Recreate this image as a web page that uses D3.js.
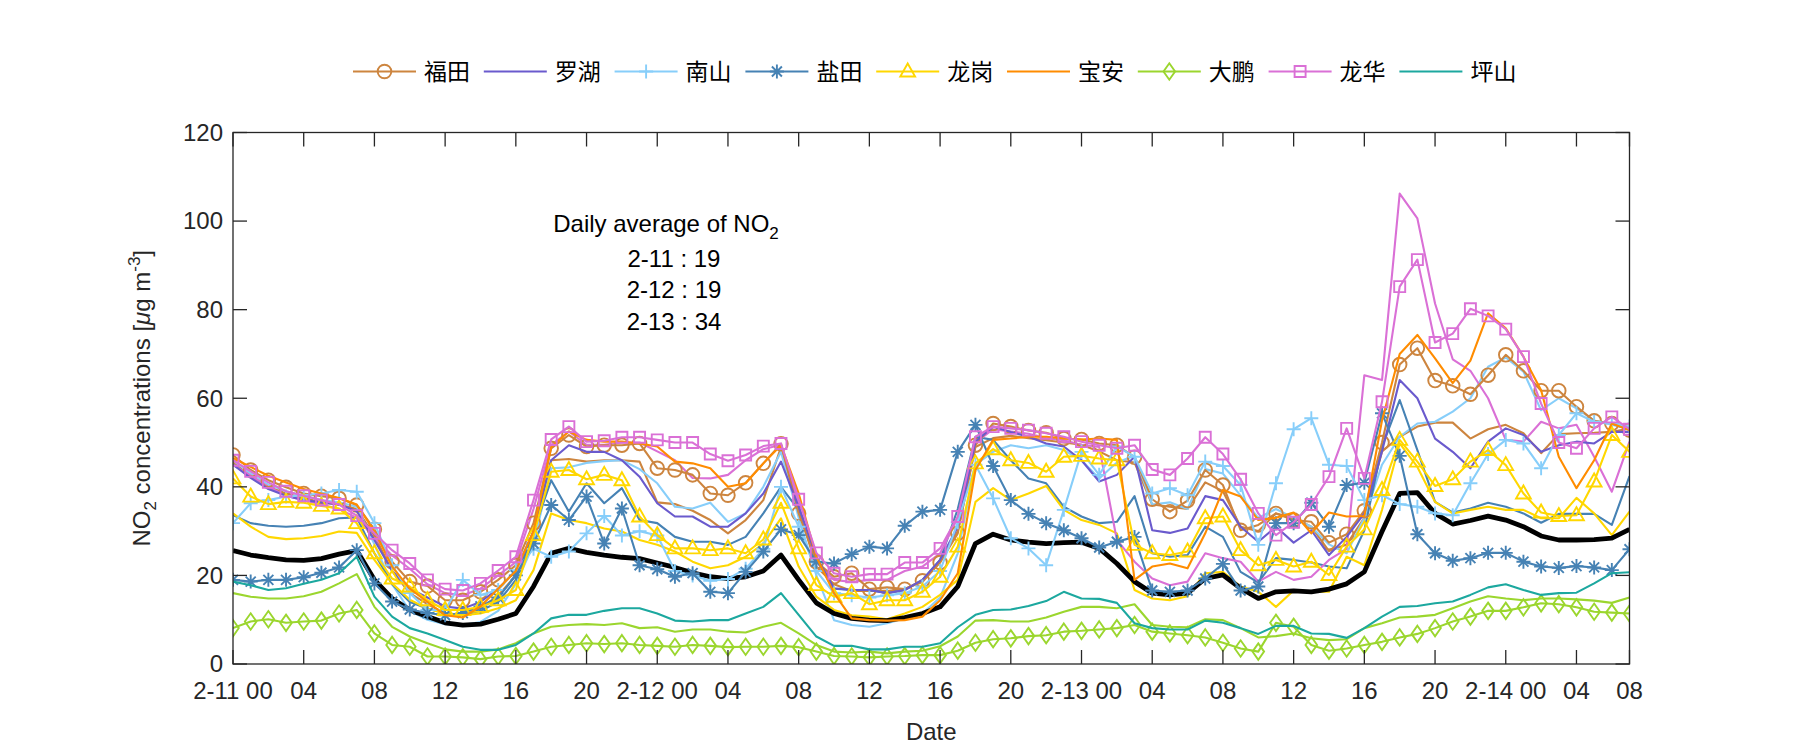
<!DOCTYPE html>
<html><head><meta charset="utf-8">
<script src="https://cdn.jsdelivr.net/npm/d3@7"></script>
<style>body{margin:0;background:#fff}</style>
</head><body><svg id="c" width="1800" height="750"></svg>
<script>
// ---------- data ----------
const xTickPos = [0,4,8,12,16,20,24,28,32,36,40,44,48,52,56,60,64,68,72,76,79];
const xTickLabels = ["2-11 00","04","08","12","16","20","2-12 00","04","08","12","16","20","2-13 00","04","08","12","16","20","2-14 00","04","08"];
const yTicks = [0,20,40,60,80,100,120];
const districts = ["福田","罗湖","南山","盐田","龙岗","宝安","大鹏","龙华","坪山"];
const colors = ["#CD853F","#6A5ACD","#87CEFA","#4682B4","#FFD700","#FF8C00","#9BD62E","#DA70D6","#1CA89F"];
const markers = ["circle","none","plus","asterisk","triangle","none","diamond","square","none"];
const annotation = ["2-11 : 19","2-12 : 19","2-13 : 34"];

const avg = [25.6,24.6,24.0,23.5,23.4,23.8,24.8,25.6,19.0,14.8,12.2,10.7,9.3,8.8,9.0,10.1,11.4,17.5,25.0,26.1,
25.2,24.6,24.1,23.8,22.8,21.8,20.6,19.7,19.3,19.7,21.0,24.6,19.0,13.8,11.4,10.3,9.9,9.8,10.5,11.4,
12.9,17.5,27.2,29.3,28.0,27.5,27.2,27.4,27.5,26.1,22.7,18.6,16.0,15.6,16.0,19.3,20.1,17.1,14.8,16.3,
16.5,16.3,16.9,18.1,20.8,29.9,38.5,38.7,34.0,31.6,32.4,33.4,32.5,31.0,28.9,28.0,28.0,28.1,28.4,30.4];

const futianM = [47.2,43.8,41.5,39.9,38.5,37.9,37.4,35.9,30.4,23.1,18.6,17.6,14.4,14.4,16.3,19.0,22.3,31.8,48.7,51.7,
49.1,49.4,49.4,49.8,44.2,43.8,42.7,38.5,38.1,40.9,45.3,49.7,34.0,23.1,19.7,20.5,16.9,17.3,16.9,18.8,
22.9,29.5,49.4,54.3,53.6,52.7,52.2,50.9,50.7,49.8,49.4,46.7,37.2,34.4,36.9,43.8,40.4,30.2,31.4,34.0,
32.5,32.1,27.4,29.3,34.6,50.0,67.6,71.3,64.0,62.8,60.9,65.2,69.8,66.2,61.7,61.7,58.1,54.9,54.3,52.8];
const futianL = [45.5,42.5,40.0,38.5,37.5,36.5,36.0,35.0,29.0,21.0,16.0,13.5,11.5,11.0,12.5,15.5,20.0,29.0,46.0,46.3,
45.7,46.0,46.0,45.7,36.5,36.1,34.6,32.5,29.5,32.5,37.0,49.0,35.0,22.0,18.0,16.5,16.5,16.5,17.0,18.5,
23.0,30.0,49.0,51.0,51.5,51.0,50.5,50.0,49.5,48.0,46.0,45.5,36.0,35.5,35.0,41.0,39.0,31.0,30.0,34.0,
33.0,31.0,25.5,27.0,33.0,48.0,51.3,53.6,54.5,54.5,50.9,53.0,54.0,52.1,47.6,51.9,52.1,52.2,52.4,53.2];
const luohu = [45.0,42.0,39.5,38.0,37.0,36.5,36.0,34.5,28.0,21.0,17.0,15.0,13.0,12.5,14.0,17.0,21.0,30.0,46.0,49.4,
47.9,47.9,46.0,42.3,36.3,33.3,33.3,31.0,31.0,34.0,38.5,45.7,35.5,24.2,17.1,16.7,16.7,16.0,16.7,19.0,
23.5,31.0,50.2,53.6,52.4,51.3,49.8,49.1,46.0,41.2,42.7,46.8,30.2,29.6,30.6,37.9,37.0,31.0,27.6,31.0,
27.4,30.2,24.6,28.7,34.0,48.0,64.1,60.0,50.9,47.9,44.2,50.2,53.2,51.7,47.9,49.4,50.2,49.8,52.4,52.4];
const nanshanM = [31.8,36.3,37.0,37.8,38.1,38.5,39.3,38.9,31.8,22.3,16.0,12.2,12.2,19.0,15.6,16.7,21.2,26.0,24.2,25.4,
29.5,33.4,29.0,30.0,29.0,21.0,20.0,18.8,19.2,21.5,26.0,40.0,31.0,21.0,16.0,15.5,15.0,15.5,16.0,17.5,
21.0,32.0,45.0,37.4,28.4,26.1,22.3,34.8,47.9,42.7,49.1,46.8,38.5,39.7,38.1,45.7,44.7,40.4,26.9,40.8,
53.0,55.5,45.0,44.7,37.0,38.1,36.1,35.5,34.0,33.6,40.8,47.4,50.6,49.8,44.2,51.7,56.6,54.7,54.3,53.6];
const nanshanL = [46.0,43.0,40.5,39.0,38.0,37.0,36.5,35.5,27.0,18.0,12.0,10.0,9.0,8.8,9.5,12.0,18.0,27.0,44.2,44.4,
45.4,45.8,46.0,44.0,40.8,35.5,35.1,36.4,32.1,34.0,40.0,47.9,33.0,20.0,9.9,8.8,8.4,9.2,10.3,11.4,
15.0,25.0,45.0,47.9,49.4,48.7,49.4,48.3,46.0,41.9,45.5,47.0,36.0,36.5,35.0,44.0,43.0,38.0,33.0,35.0,
33.0,31.0,27.0,25.0,33.0,45.0,51.3,54.3,54.7,57.0,60.0,67.1,69.2,66.0,57.3,60.0,57.7,55.0,54.0,53.0];
const yantianM = [19.0,18.6,19.0,19.0,19.6,20.6,21.8,25.7,18.2,14.1,12.3,11.5,11.0,11.5,13.0,15.0,20.0,27.2,35.9,32.5,
37.8,27.2,35.1,22.3,21.4,19.7,20.5,16.3,16.0,20.8,25.4,30.4,29.1,23.1,22.7,24.8,26.5,26.1,31.2,34.4,
34.8,47.9,54.0,44.7,37.0,33.9,31.8,30.2,28.4,26.3,27.6,28.7,16.6,16.3,16.6,19.3,22.6,16.6,17.5,31.8,
31.8,36.4,31.0,40.4,40.9,56.6,47.0,29.3,25.0,23.3,23.9,25.1,25.1,23.1,22.0,21.7,22.1,21.8,21.2,25.9];
const yantianL = [33.6,31.8,31.2,31.0,31.2,31.8,32.9,33.1,25.0,18.0,14.0,12.5,11.5,11.0,12.0,14.0,19.0,30.0,41.5,34.4,
40.8,36.3,39.7,32.5,31.8,28.7,27.6,27.6,26.9,28.7,34.0,40.0,34.8,23.5,17.0,16.7,16.7,16.0,16.7,19.0,
23.5,35.0,51.3,50.6,46.0,41.9,40.8,35.5,33.3,31.8,32.1,37.9,25.0,24.2,24.6,31.0,28.7,20.8,18.4,23.9,
23.5,22.9,22.0,21.6,30.2,49.0,59.6,48.3,36.6,34.2,35.1,36.4,35.5,34.0,31.9,33.9,33.9,33.9,31.4,42.4];
const longgangM = [41.9,37.8,36.1,36.6,36.4,35.7,35.1,31.8,25.0,19.3,17.5,14.4,12.2,12.2,12.9,14.4,16.7,29.1,43.4,43.8,
41.7,42.7,41.5,33.3,29.1,26.1,26.1,25.7,26.1,25.0,28.1,36.4,26.1,17.8,15.2,16.0,13.5,14.4,14.4,16.3,
19.7,26.5,45.3,48.5,46.0,45.4,43.4,46.8,47.0,46.4,46.0,26.9,25.0,24.6,25.4,32.9,33.3,25.7,22.3,23.5,
22.0,23.1,20.1,26.5,30.4,39.3,50.6,45.7,40.2,41.7,45.7,48.3,44.9,38.5,34.2,33.4,33.6,41.2,51.7,47.9];
const longgangL = [34.0,31.0,28.7,28.2,28.4,28.9,29.9,29.6,23.5,18.2,14.5,12.5,11.4,11.0,11.4,12.6,14.4,21.2,34.0,32.5,
31.8,30.6,29.9,28.0,26.9,25.4,23.1,21.6,22.3,24.2,27.2,32.9,22.0,15.2,12.2,11.0,10.7,10.1,11.4,12.9,
15.6,19.0,36.6,39.7,37.0,38.5,40.2,34.8,32.5,31.4,29.5,16.7,14.8,14.4,15.3,20.5,20.8,17.5,16.3,12.9,
16.6,16.3,16.3,24.2,22.3,34.8,49.8,44.5,36.6,34.0,34.8,35.5,34.8,34.8,32.9,32.9,37.5,34.0,29.1,34.4];
const baoan = [46.5,44.5,42.5,41.0,39.5,38.5,37.5,36.0,30.0,22.0,17.0,14.0,11.0,10.5,13.0,17.0,21.0,30.0,49.0,52.5,
50.6,50.2,50.2,49.8,49.1,45.7,45.3,44.2,40.0,40.8,45.3,49.4,38.5,24.2,16.0,10.3,9.9,9.8,9.9,10.7,
14.4,20.5,43.8,50.6,50.9,51.3,51.3,50.9,50.7,50.9,50.6,19.0,22.0,22.7,21.6,29.5,39.3,37.8,32.5,33.0,
34.2,29.5,34.2,33.3,33.4,55.0,70.0,74.3,69.0,63.4,68.5,79.2,75.8,69.4,61.8,46.8,39.7,46.0,54.3,52.8];
const dapengM = [8.1,9.6,10.1,9.3,9.6,9.8,11.4,12.2,6.9,4.3,3.9,1.7,1.7,1.5,1.1,1.7,1.8,2.8,3.9,4.3,
4.7,4.5,4.7,4.3,4.1,3.9,4.3,4.1,3.8,3.9,3.9,4.1,3.8,2.8,1.8,1.7,1.5,1.7,1.8,2.0,
2.0,3.0,4.8,5.6,5.8,6.3,6.5,7.3,7.5,7.8,8.1,8.8,7.3,6.9,6.5,6.0,4.8,3.5,2.8,9.3,
8.4,4.3,3.0,3.5,4.3,5.0,6.0,6.8,8.1,9.6,10.7,12.0,12.0,12.8,13.7,13.5,12.8,11.8,11.6,11.4];
const dapengL = [16.0,15.2,14.8,14.8,15.3,16.3,18.2,20.3,12.9,8.4,6.2,4.7,3.3,2.8,2.8,3.3,4.7,6.9,8.4,8.8,
9.0,8.8,9.2,8.1,8.3,7.3,7.8,7.8,7.3,7.1,8.4,9.3,6.9,4.3,2.8,2.6,2.8,2.4,2.8,3.0,
4.0,6.2,9.8,9.9,9.6,9.6,10.5,11.8,12.9,12.9,12.6,13.5,8.8,8.4,8.3,10.1,9.9,8.1,6.0,6.3,
6.9,5.8,5.4,5.6,8.1,9.2,10.5,10.7,11.1,12.6,14.1,15.3,14.8,14.4,14.8,14.8,14.6,14.3,13.8,15.0];
const longhuaM = [46.0,43.5,41.0,39.0,38.0,37.0,36.0,33.5,29.5,25.7,22.7,19.0,16.9,16.6,18.2,21.1,24.2,37.0,50.7,53.6,
50.2,50.4,51.2,51.2,50.6,50.0,50.0,47.4,45.9,47.2,49.2,49.8,37.2,25.1,20.5,19.7,20.3,20.3,22.9,22.9,
26.1,33.3,51.3,53.6,53.2,52.8,52.1,51.3,50.2,49.4,48.7,49.4,43.9,42.7,46.4,51.2,47.4,41.7,34.0,29.1,
32.0,36.0,42.3,53.2,41.9,59.2,85.2,91.3,72.6,74.6,80.2,78.6,75.6,69.4,58.8,50.0,48.7,53.2,55.8,53.0];
const longhuaL = [45.0,42.5,40.0,38.0,37.0,36.0,35.0,33.0,28.5,24.5,21.5,18.0,16.0,15.5,17.0,20.0,23.0,35.0,49.5,52.5,
49.5,49.5,50.0,50.0,48.0,46.0,42.0,41.9,42.7,46.0,48.5,49.5,36.0,23.0,19.0,18.5,19.0,19.0,21.0,22.0,
25.0,33.0,50.0,53.0,52.5,52.0,51.0,50.5,49.5,49.0,28.0,23.1,19.3,17.8,18.6,25.0,23.9,23.1,18.6,20.8,
19.0,19.7,23.5,26.0,65.2,64.1,106.2,100.6,81.4,68.8,66.2,60.0,50.6,50.2,54.7,53.2,54.0,46.8,38.9,50.2];
const pingshan = [18.6,17.8,16.7,17.1,18.1,19.0,20.5,24.2,15.2,10.7,8.1,6.9,5.4,3.9,3.2,3.2,4.3,6.9,10.3,11.1,
11.1,12.0,12.6,12.6,11.4,9.8,9.6,9.9,9.9,11.4,12.9,16.0,11.1,6.2,4.1,4.1,3.3,3.3,3.9,3.9,
4.7,8.3,11.1,12.2,12.3,13.1,14.2,16.3,14.8,14.7,13.8,9.2,8.1,7.8,7.8,9.8,9.3,8.1,6.8,8.6,
8.6,6.9,6.8,5.9,8.1,10.7,12.9,13.1,13.7,14.1,15.6,17.3,18.0,16.7,15.6,16.0,16.1,18.2,20.5,20.7];

// series tables built from the arrays above
const legendSeries = [futianM, luohu, nanshanM, yantianM, longgangM, baoan, dapengM, longhuaM, pingshan];
const extraSeries = [[futianL,0],[nanshanL,2],[yantianL,3],[longgangL,4],[dapengL,6],[longhuaL,7]];

// ---------- layout ----------
const svg = d3.select("#c");
const W = 1800, H = 750;
const m = {l:233, r:1629.5, t:132.5, b:664};
const FONT = "'Liberation Sans', Arial, sans-serif";
const CJK = "'Noto Sans CJK SC', sans-serif";
const axisColor = "#262626";

svg.append("rect").attr("width",W).attr("height",H).attr("fill","#fff");

const x = d3.scaleLinear().domain([0,79]).range([m.l,m.r]);
const y = d3.scaleLinear().domain([0,120]).range([m.b,m.t]);

svg.append("clipPath").attr("id","pc").append("rect")
  .attr("x",m.l).attr("y",m.t).attr("width",m.r-m.l).attr("height",m.b-m.t);

// marker shapes
function markerPath(type){
  switch(type){
    case "circle": return d3.symbol().type(d3.symbolCircle).size(Math.PI*6.8*6.8)();
    case "square": return "M-5.5,-5.5H5.5V5.5H-5.5Z";
    case "triangle": return "M0,-8L7.4,5L-7.4,5Z";
    case "diamond": return "M0,-8.2L5.8,0L0,8.2L-5.8,0Z";
    case "plus": return "M-7,0H7M0,-7V7";
    case "asterisk": return "M-7,0H7M0,-7V7M-5,-5L5,5M-5,5L5,-5";
  }
  return null;
}

const line = d3.line().x((d,i)=>x(i)).y(d=>y(d));
const plotG = svg.append("g").attr("clip-path","url(#pc)");

// unmarked duplicate lines
extraSeries.forEach(([arr,ci])=>{
  plotG.append("path").attr("d",line(arr)).attr("fill","none")
    .attr("stroke",colors[ci]).attr("stroke-width",2.1).attr("stroke-linejoin","round");
});
// average line
plotG.append("path").attr("d",line(avg)).attr("fill","none")
  .attr("stroke","#000").attr("stroke-width",4.8).attr("stroke-linejoin","round");
// legend series
legendSeries.forEach((arr,si)=>{
  plotG.append("path").attr("d",line(arr)).attr("fill","none")
    .attr("stroke",colors[si]).attr("stroke-width",2.1).attr("stroke-linejoin","round");
  const mp = markerPath(markers[si]);
  if(mp){
    plotG.selectAll(null).data(arr).enter().append("path")
      .attr("d",mp).attr("transform",(d,i)=>`translate(${x(i)},${y(d)})`)
      .attr("fill","none").attr("stroke",colors[si]).attr("stroke-width",1.9);
  }
});

// axes box
const tl = 14;
const axG = svg.append("g").attr("stroke",axisColor).attr("stroke-width",1.3).attr("fill","none");
axG.append("rect").attr("x",m.l).attr("y",m.t).attr("width",m.r-m.l).attr("height",m.b-m.t);
yTicks.forEach(v=>{
  axG.append("line").attr("x1",m.l).attr("x2",m.l+tl).attr("y1",y(v)).attr("y2",y(v));
  axG.append("line").attr("x1",m.r).attr("x2",m.r-tl).attr("y1",y(v)).attr("y2",y(v));
});
xTickPos.forEach(h=>{
  axG.append("line").attr("x1",x(h)).attr("x2",x(h)).attr("y1",m.b).attr("y2",m.b-tl);
  axG.append("line").attr("x1",x(h)).attr("x2",x(h)).attr("y1",m.t).attr("y2",m.t+tl);
});

// tick labels
const tG = svg.append("g").attr("font-family",FONT).attr("font-size",24).attr("fill",axisColor);
yTicks.forEach(v=>{
  tG.append("text").attr("x",m.l-10).attr("y",y(v)).attr("dy","0.35em")
    .attr("text-anchor","end").text(v);
});
xTickPos.forEach((h,i)=>{
  tG.append("text").attr("x",x(h)).attr("y",m.b+35).attr("text-anchor","middle").text(xTickLabels[i]);
});

// axis titles
tG.append("text").attr("x",(m.l+m.r)/2).attr("y",740).attr("text-anchor","middle").text("Date");
const yl = tG.append("text").attr("transform",`translate(150,${(m.t+m.b)/2}) rotate(-90)`)
  .attr("text-anchor","middle");
yl.append("tspan").text("NO");
yl.append("tspan").attr("font-size",17).attr("dy",6).text("2");
yl.append("tspan").attr("dy",-6).text(" concentrations [");
yl.append("tspan").attr("font-style","italic").text("μ");
yl.append("tspan").text("g m");
yl.append("tspan").attr("font-size",17).attr("dy",-10).text("-3");
yl.append("tspan").attr("dy",10).text("]");

// annotation
const an = svg.append("g").attr("font-family",FONT).attr("font-size",24).attr("fill","#000");
const t0 = an.append("text").attr("x",666).attr("y",231.5).attr("text-anchor","middle");
t0.append("tspan").text("Daily average of NO");
t0.append("tspan").attr("font-size",17).attr("dy",7).text("2");
annotation.forEach((s,i)=>{
  an.append("text").attr("x",674).attr("y",266.5+i*31.8).attr("text-anchor","middle").text(s);
});

// legend
const lg = svg.append("g");
districts.forEach((name,i)=>{
  const x0 = 353 + i*130.8, ly = 71.5;
  lg.append("line").attr("x1",x0).attr("x2",x0+63).attr("y1",ly).attr("y2",ly)
    .attr("stroke",colors[i]).attr("stroke-width",2.1);
  const mp = markerPath(markers[i]);
  if(mp) lg.append("path").attr("d",mp).attr("transform",`translate(${x0+31.5},${ly})`)
    .attr("fill","none").attr("stroke",colors[i]).attr("stroke-width",1.9);
  lg.append("text").attr("x",x0+71).attr("y",ly).attr("dy","0.36em")
    .attr("font-family",CJK).attr("font-size",23).attr("fill","#000").text(name);
});
</script>
</body></html>
